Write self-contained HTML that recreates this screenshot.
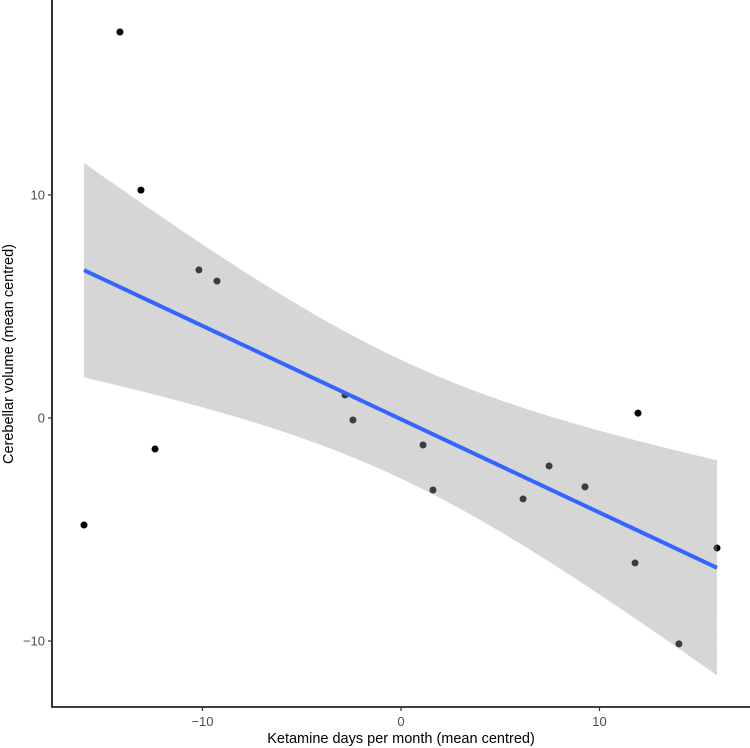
<!DOCTYPE html>
<html><head><meta charset="utf-8"><style>
body{margin:0;background:#fff}
svg{display:block;font-family:"Liberation Sans",Arial,sans-serif}
</style></head><body>
<svg id="chart" width="750" height="748" viewBox="0 0 750 748" xmlns="http://www.w3.org/2000/svg">
<g id="points"></g>
<path id="band" fill="#999999" fill-opacity="0.4" stroke="none"/>
<line id="fit" stroke="#3366FF" stroke-width="4"/>
<line x1="52" y1="0" x2="52" y2="707.5" stroke="#000" stroke-width="1.6"/>
<line x1="51.2" y1="707" x2="750" y2="707" stroke="#000" stroke-width="1.6"/>
<g id="xticks"></g>
<g id="yticks"></g>
<text x="401" y="743" text-anchor="middle" font-size="14.5" fill="#000">Ketamine days per month (mean centred)</text>
<text transform="translate(13,354) rotate(-90)" text-anchor="middle" font-size="14.5" fill="#000">Cerebellar volume (mean centred)</text>
</svg>
<script>
const xVals=[-14.16,-13.1,-15.97,-12.39,-10.18,-9.27,-2.82,-2.42,1.11,1.61,6.15,7.46,9.27,11.94,11.79,14.0,15.92];
const yVals=[17.31,10.22,-4.8,-1.39,6.64,6.14,1.03,-0.09,-1.21,-3.23,-3.63,-2.15,-3.09,0.22,-6.5,-10.13,-5.83];
const xTicks=[-10,0,10];
const yTicks=[-10,0,10];
const NS="http://www.w3.org/2000/svg";
const sx=v=>401+19.85*v;
const sy=v=>418-22.3*v;
const g=document.getElementById('points');
xVals.forEach((x,i)=>{const c=document.createElementNS(NS,'circle');


c.setAttribute('cx',sx(x));c.setAttribute('cy',sy(yVals[i]));c.setAttribute('r',3.5);c.setAttribute('fill','#000');g.appendChild(c);});
const n=xVals.length,mx=xVals.reduce((a,b)=>a+b)/n,my=yVals.reduce((a,b)=>a+b)/n;
let sxx=0,sxy=0;xVals.forEach((x,i)=>{sxx+=(x-mx)**2;sxy+=(x-mx)*(yVals[i]-my);});
const b=sxy/sxx,a=my-b*mx;let rss=0;xVals.forEach((x,i)=>{rss+=(yVals[i]-a-b*x)**2;});
const s=Math.sqrt(rss/(n-2)),t=2.131;
const x0=Math.min(...xVals),x1=Math.max(...xVals);
const up=[],lo=[];
for(let k=0;k<=80;k++){const x=x0+(x1-x0)*k/80;const f=a+b*x;const se=s*Math.sqrt(1/n+(x-mx)**2/sxx);
up.push(sx(x)+','+sy(f+t*se));lo.unshift(sx(x)+','+sy(f-t*se));}
document.getElementById('band').setAttribute('d','M'+up.join('L')+'L'+lo.join('L')+'Z');
const l=document.getElementById('fit');
l.setAttribute('x1',sx(x0));l.setAttribute('y1',sy(a+b*x0));l.setAttribute('x2',sx(x1));l.setAttribute('y2',sy(a+b*x1));
const fmt=v=>v<0?'\u2212'+(-v):String(v);
const xt=document.getElementById('xticks');
xTicks.forEach(v=>{const ln=document.createElementNS(NS,'line');


ln.setAttribute('x1',sx(v));ln.setAttribute('x2',sx(v));ln.setAttribute('y1',707);ln.setAttribute('y2',711);ln.setAttribute('stroke','#333');ln.setAttribute('stroke-width',1.2);xt.appendChild(ln);
const tx=document.createElementNS(NS,'text');


tx.setAttribute('x',sx(v));tx.setAttribute('y',726);tx.setAttribute('text-anchor','middle');tx.setAttribute('font-size','13');tx.setAttribute('fill','#4d4d4d');tx.textContent=fmt(v);xt.appendChild(tx);});
const yt=document.getElementById('yticks');
yTicks.forEach(v=>{const ln=document.createElementNS(NS,'line');


ln.setAttribute('x1',48);ln.setAttribute('x2',52);ln.setAttribute('y1',sy(v));ln.setAttribute('y2',sy(v));ln.setAttribute('stroke','#333');ln.setAttribute('stroke-width',1.2);yt.appendChild(ln);
const tx=document.createElementNS(NS,'text');


tx.setAttribute('x',45);tx.setAttribute('y',sy(v)+4.5);tx.setAttribute('text-anchor','end');tx.setAttribute('font-size','13');tx.setAttribute('fill','#4d4d4d');tx.textContent=fmt(v);yt.appendChild(tx);});
</script>
</body></html>
